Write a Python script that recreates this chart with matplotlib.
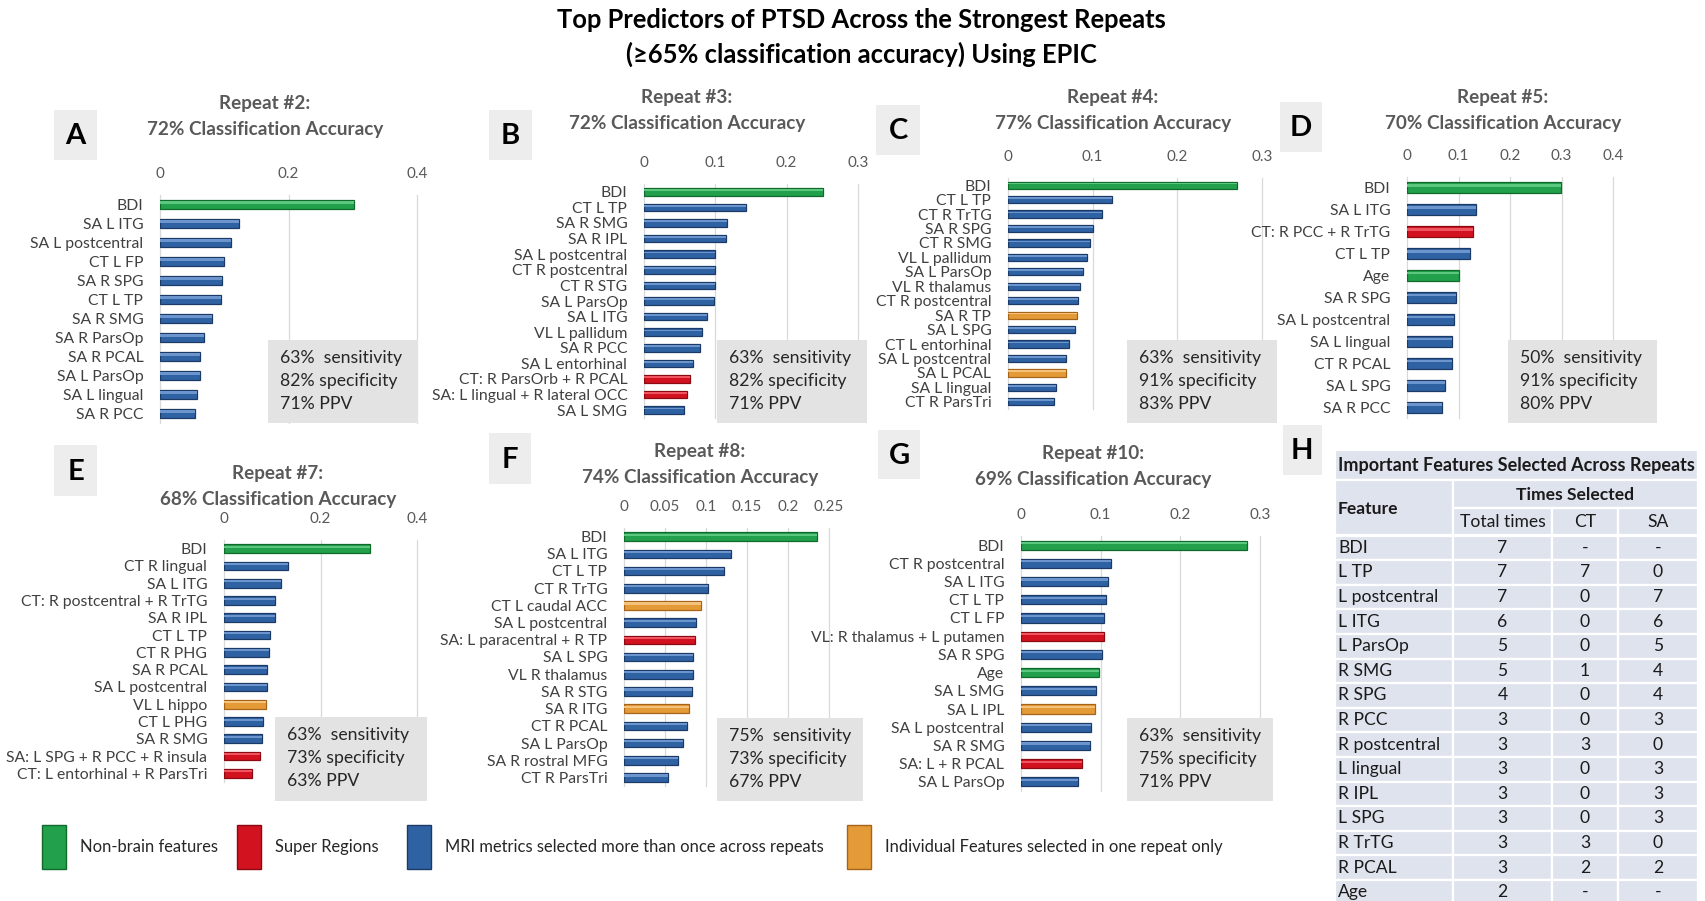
import numpy as np
import matplotlib
matplotlib.use('Agg')
import matplotlib.pyplot as plt
from matplotlib.patches import Rectangle
from matplotlib.ticker import FuncFormatter

W, H = 1705, 901
DPI = 100

plt.rcParams['font.family'] = ['Lato', 'DejaVu Sans']

# bar colours (face, edge, highlight) for the four feature groups
COLORS = {
    'g': ('#22a04b', '#0f6a2c', '#5cc77e'),
    'r': ('#d3121f', '#8b0a12', '#ee5560'),
    'b': ('#2f62a3', '#1b3a66', '#6b95cc'),
    'o': ('#e49a36', '#a5641a', '#f4c27a'),
}

# ---- data ----
rep2_labels = ['BDI', 'SA L ITG', 'SA L postcentral', 'CT L FP', 'SA R SPG', 'CT L TP',
               'SA R SMG', 'SA R ParsOp', 'SA R PCAL', 'SA L ParsOp', 'SA L lingual', 'SA R PCC']
rep2_values = [0.302, 0.123, 0.110, 0.099, 0.097, 0.095, 0.081, 0.069, 0.062, 0.062, 0.058, 0.055]
rep2_kinds = 'gbbbbbbbbbbb'

rep3_labels = ['BDI', 'CT L TP', 'SA R SMG', 'SA R IPL', 'SA L postcentral', 'CT R postcentral',
               'CT R STG', 'SA L ParsOp', 'SA L ITG', 'VL L pallidum', 'SA R PCC', 'SA L entorhinal',
               'CT: R ParsOrb + R PCAL', 'SA: L lingual + R lateral OCC', 'SA L SMG']
rep3_values = [0.251, 0.143, 0.117, 0.115, 0.100, 0.100, 0.100, 0.098, 0.088, 0.082, 0.078,
               0.068, 0.064, 0.060, 0.056]
rep3_kinds = 'gbbbbbbbbbbbrrb'

rep4_labels = ['BDI', 'CT L TP', 'CT R TrTG', 'SA R SPG', 'CT R SMG', 'VL L pallidum', 'SA L ParsOp',
               'VL R thalamus', 'CT R postcentral', 'SA R TP', 'SA L SPG', 'CT L entorhinal',
               'SA L postcentral', 'SA L PCAL', 'SA L lingual', 'CT R ParsTri']
rep4_values = [0.270, 0.123, 0.111, 0.100, 0.097, 0.093, 0.088, 0.085, 0.083, 0.081, 0.079,
               0.072, 0.068, 0.068, 0.057, 0.054]
rep4_kinds = 'gbbbbbbbbobbbobb'

rep5_labels = ['BDI', 'SA L ITG', 'CT: R PCC + R TrTG', 'CT L TP', 'Age', 'SA R SPG',
               'SA L postcentral', 'SA L lingual', 'CT R PCAL', 'SA L SPG', 'SA R PCC']
rep5_values = [0.299, 0.134, 0.128, 0.123, 0.101, 0.096, 0.091, 0.087, 0.087, 0.073, 0.067]
rep5_kinds = 'gbrbgbbbbbb'

rep7_labels = ['BDI', 'CT R lingual', 'SA L ITG', 'CT: R postcentral + R TrTG', 'SA R IPL', 'CT L TP',
               'CT R PHG', 'SA R PCAL', 'SA L postcentral', 'VL L hippo', 'CT L PHG', 'SA R SMG',
               'SA: L SPG + R PCC + R insula', 'CT: L entorhinal + R ParsTri']
rep7_values = [0.303, 0.133, 0.118, 0.106, 0.106, 0.096, 0.093, 0.090, 0.090, 0.087, 0.081,
               0.078, 0.075, 0.057]
rep7_kinds = 'gbbbbbbbbobbrr'

rep8_labels = ['BDI', 'SA L ITG', 'CT L TP', 'CT R TrTG', 'CT L caudal ACC', 'SA L postcentral',
               'SA: L paracentral + R TP', 'SA L SPG', 'VL R thalamus', 'SA R STG', 'SA R ITG',
               'CT R PCAL', 'SA L ParsOp', 'SA R rostral MFG', 'CT R ParsTri']
rep8_values = [0.235, 0.131, 0.122, 0.103, 0.094, 0.088, 0.086, 0.084, 0.084, 0.083, 0.079,
               0.077, 0.072, 0.066, 0.054]
rep8_kinds = 'gbbbobrbbbobbbb'

rep10_labels = ['BDI', 'CT R postcentral', 'SA L ITG', 'CT L TP', 'CT L FP', 'VL: R thalamus + L putamen',
                'SA R SPG', 'Age', 'SA L SMG', 'SA L IPL', 'SA L postcentral', 'SA R SMG',
                'SA: L + R PCAL', 'SA L ParsOp']
rep10_values = [0.284, 0.113, 0.109, 0.107, 0.104, 0.104, 0.102, 0.098, 0.094, 0.093, 0.088,
                0.086, 0.076, 0.071]
rep10_kinds = 'gbbbbrbgbobbrb'

repeat_names = ['#2', '#3', '#4', '#5', '#7', '#8', '#10']
accuracy = [72, 72, 77, 70, 68, 74, 69]
sensitivity = [63, 63, 63, 50, 63, 75, 63]
specificity = [82, 82, 91, 91, 73, 73, 75]
ppv = [71, 71, 83, 80, 63, 67, 71]
x_max = [0.4, 0.3, 0.3, 0.4, 0.4, 0.25, 0.3]
x_step = [0.2, 0.1, 0.1, 0.1, 0.2, 0.05, 0.1]

table_features = ['BDI', 'L TP', 'L postcentral', 'L ITG', 'L ParsOp', 'R SMG', 'R SPG', 'R PCC',
                  'R postcentral', 'L lingual', 'R IPL', 'L SPG', 'R TrTG', 'R PCAL', 'Age']
table_total = [7, 7, 7, 6, 5, 5, 4, 3, 3, 3, 3, 3, 3, 3, 2]
table_ct = ['-', '7', '0', '0', '0', '1', '0', '0', '3', '0', '0', '0', '3', '2', '-']
table_sa = ['-', '0', '7', '6', '5', '4', '4', '3', '0', '3', '3', '3', '0', '2', '-']

legend_names = ['Non-brain features', 'Super Regions',
                'MRI metrics selected more than once across repeats',
                'Individual Features selected in one repeat only']
legend_kinds = ['g', 'r', 'b', 'o']

panels = [
    (rep2_labels, rep2_values, rep2_kinds),
    (rep3_labels, rep3_values, rep3_kinds),
    (rep4_labels, rep4_values, rep4_kinds),
    (rep5_labels, rep5_values, rep5_kinds),
    (rep7_labels, rep7_values, rep7_kinds),
    (rep8_labels, rep8_values, rep8_kinds),
    (rep10_labels, rep10_values, rep10_kinds),
]

# ---- layout, in pixels of the 1705x901 picture ----
letters = 'ABCDEFG'
axes_px = [(160, 195, 417, 423), (644, 184, 858, 418), (1008, 178, 1262, 409),
           (1407, 177, 1613, 418), (224, 540, 417, 782), (624, 528, 829, 786),
           (1021, 536, 1260, 791)]
title_px = [(265, 104), (687, 97), (1113, 97), (1503, 97), (278, 473), (700, 452), (1093, 453)]
letter_px = [(54, 110, 97, 160), (489, 110, 532, 160), (876, 105, 920, 155), (1280, 102, 1322, 152),
             (54, 445, 97, 496), (489, 433, 531, 484), (878, 430, 920, 479)]
stats_px = [(268, 340, 418, 423), (717, 340, 867, 423), (1127, 340, 1277, 423),
            (1508, 340, 1657, 423), (275, 717, 427, 801), (717, 718, 863, 801),
            (1127, 718, 1273, 801)]

fig = plt.figure(figsize=(W / DPI, H / DPI), dpi=DPI)
fig.patch.set_facecolor('white')


def add_px_axes(l, t, r, b):
    return fig.add_axes([l / W, 1 - b / H, (r - l) / W, (b - t) / H])


for i, (labels, values, kinds) in enumerate(panels):
    ax = add_px_axes(*axes_px[i])
    n = len(values)
    pos = np.arange(n)
    faces = [COLORS[k][0] for k in kinds]
    edges = [COLORS[k][1] for k in kinds]
    lights = [COLORS[k][2] for k in kinds]
    ax.barh(pos, values, height=0.5, color=faces, edgecolor=edges, linewidth=0.9)
    # lighter band near the top edge, for the bevelled look of the original bars
    ax.barh(pos - 0.11, values, height=0.12, color=lights, linewidth=0)
    ax.set_ylim(n - 0.5, -0.5)
    ax.set_xlim(0, x_max[i])
    ax.set_xticks(np.round(np.arange(0, x_max[i] + 1e-9, x_step[i]), 3))
    ax.xaxis.set_major_formatter(FuncFormatter(lambda v, _: f'{v:g}'))
    ax.xaxis.tick_top()
    ax.set_yticks(pos)
    ax.set_yticklabels(labels)
    ax.tick_params(axis='x', length=0, pad=10, labelsize=11, labelcolor='#595959')
    ax.tick_params(axis='y', length=0, pad=12, labelsize=11.3, labelcolor='#404040')
    for sp in ax.spines.values():
        sp.set_visible(False)
    ax.grid(axis='x', color='#d9d9d9', linewidth=0.9, clip_on=False)
    ax.set_axisbelow(True)

# overlay for titles, boxes, table and legend
ov = fig.add_axes([0, 0, 1, 1])
ov.set_xlim(0, W)
ov.set_ylim(H, 0)
ov.axis('off')

ov.text(861, 20, 'Top Predictors of PTSD Across the Strongest Repeats', ha='center', va='center',
        fontsize=18.4, fontweight='bold', color='black')
ov.text(861, 54, '(≥65% classification accuracy) Using EPIC', ha='center', va='center',
        fontsize=18.4, fontweight='bold', color='black')

for i in range(7):
    tx, ty = title_px[i]
    ov.text(tx, ty, f'Repeat {repeat_names[i]}:', ha='center', va='center',
            fontsize=13.6, fontweight='bold', color='#595959')
    ov.text(tx, ty + 26, f'{accuracy[i]}% Classification Accuracy', ha='center', va='center',
            fontsize=13.6, fontweight='bold', color='#595959')

    l, t, r, b = letter_px[i]
    ov.add_patch(Rectangle((l, t), r - l, b - t, facecolor='#ededed', edgecolor='none'))
    ov.text((l + r) / 2, (t + b) / 2 + 1, letters[i], ha='center', va='center',
            fontsize=21, fontweight='bold', color='black')

    l, t, r, b = stats_px[i]
    ov.add_patch(Rectangle((l, t), r - l, b - t, facecolor='#e3e3e3', edgecolor='none'))
    lines = [f'{sensitivity[i]}%  sensitivity', f'{specificity[i]}% specificity', f'{ppv[i]}% PPV']
    for j, s in enumerate(lines):
        ov.text(l + 12, t + 18 + j * 23, s, ha='left', va='center', fontsize=12.7, color='#262626')

# panel H letter
ov.add_patch(Rectangle((1283, 425), 39, 50, facecolor='#ededed', edgecolor='none'))
ov.text(1302, 451, 'H', ha='center', va='center', fontsize=21, fontweight='bold', color='black')

# table
tab_bg = '#dfe3ed'
tab_fs = 12.6
col_x = [1335, 1453, 1552, 1618, 1698]
cell = dict(facecolor=tab_bg, edgecolor='white', linewidth=1.6)
ov.add_patch(Rectangle((col_x[0], 450), col_x[4] - col_x[0], 30, **cell))
ov.text((col_x[0] + col_x[4]) / 2, 466, 'Important Features Selected Across Repeats',
        ha='center', va='center', fontsize=13, fontweight='bold', color='#1a1a1a')
ov.add_patch(Rectangle((col_x[0], 480), col_x[1] - col_x[0], 55, **cell))
ov.text(col_x[0] + 3, 509, 'Feature', ha='left', va='center', fontsize=tab_fs, fontweight='bold',
        color='#1a1a1a')
ov.add_patch(Rectangle((col_x[1], 480), col_x[4] - col_x[1], 28, **cell))
ov.text((col_x[1] + col_x[4]) / 2, 495, 'Times Selected', ha='center', va='center', fontsize=tab_fs,
        fontweight='bold', color='#1a1a1a')
for c, name in enumerate(['Total times', 'CT', 'SA']):
    ov.add_patch(Rectangle((col_x[c + 1], 508), col_x[c + 2] - col_x[c + 1], 27, **cell))
    ov.text((col_x[c + 1] + col_x[c + 2]) / 2, 522, name, ha='center', va='center',
            fontsize=tab_fs, color='#1a1a1a')

row_h = 24.6
for r, feat in enumerate(table_features):
    y0 = 535.5 + r * row_h
    vals = [feat, str(table_total[r]), table_ct[r], table_sa[r]]
    for c in range(4):
        ov.add_patch(Rectangle((col_x[c], y0), col_x[c + 1] - col_x[c], row_h, **cell))
        if c == 0:
            ov.text(col_x[0] + 3, y0 + row_h / 2, vals[c], ha='left', va='center',
                    fontsize=tab_fs, color='#1a1a1a')
        else:
            ov.text((col_x[c] + col_x[c + 1]) / 2, y0 + row_h / 2, vals[c], ha='center',
                    va='center', fontsize=tab_fs, color='#1a1a1a')

# legend
leg_x = [42, 237, 407, 847]
for k, name, x in zip(legend_kinds, legend_names, leg_x):
    ov.add_patch(Rectangle((x, 825), 24, 44, facecolor=COLORS[k][0], edgecolor=COLORS[k][1],
                           linewidth=1.0))
    ov.text(x + 38, 847, name, ha='left', va='center', fontsize=11.9, color='#262626')

fig.savefig('out.png', dpi=DPI, facecolor='white')
